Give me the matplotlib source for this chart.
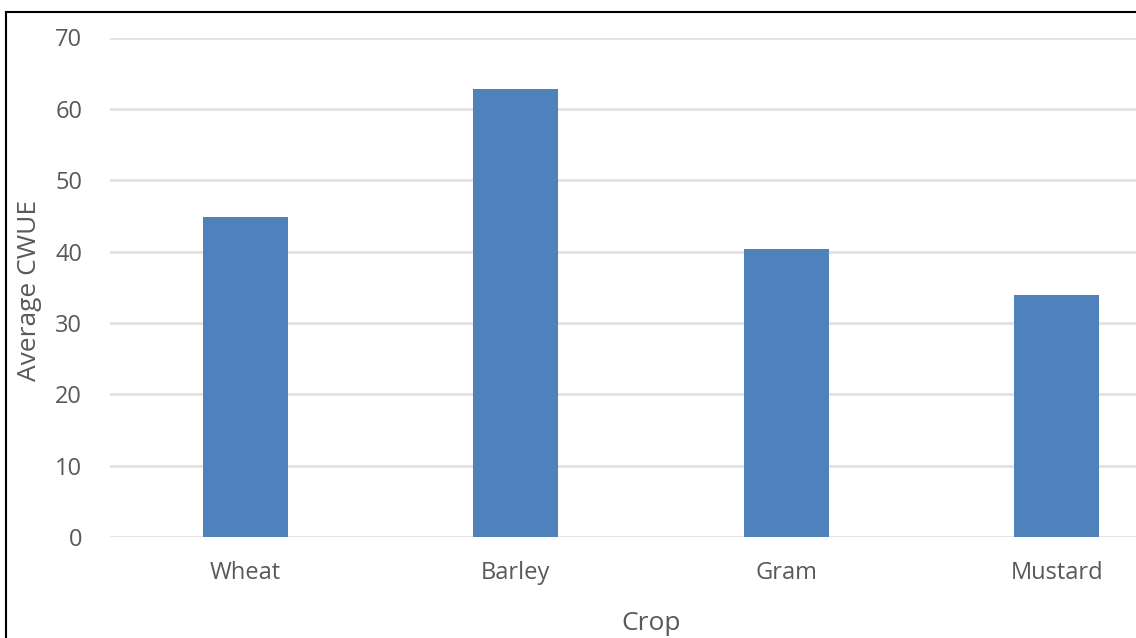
import matplotlib.pyplot as plt
from matplotlib.lines import Line2D

# Average crop water use efficiency by crop
crops = ['Wheat', 'Barley', 'Gram', 'Mustard']
avg_cwue = [44.8, 62.8, 40.4, 33.9]
y_ticks = [0, 10, 20, 30, 40, 50, 60, 70]

plt.rcParams['font.family'] = ['Open Sans', 'DejaVu Sans']

fig = plt.figure(figsize=(11.36, 6.38), dpi=100)
# axes runs past the right edge of the figure, as in the exported chart
ax = fig.add_axes([110 / 1136, 1 - 537 / 638, 1082 / 1136, 499.5 / 638])

x = list(range(len(crops)))
ax.bar(x, avg_cwue, width=0.315, color='#4f81bd', zorder=3)

ax.set_xlim(-0.5, len(crops) - 0.5)
ax.set_ylim(0, 70)
ax.set_yticks(y_ticks)
ax.set_xticks(x)
ax.set_xticklabels(crops)
ax.grid(axis='y', color='#e2e2e2', linewidth=2, zorder=0)
ax.set_axisbelow(True)
for side in ['top', 'right', 'left', 'bottom']:
    ax.spines[side].set_visible(False)
ax.tick_params(axis='both', length=0, colors='#595959', labelsize=17)
ax.tick_params(axis='y', pad=20)
ax.tick_params(axis='x', pad=17)

ax.set_xlabel('Crop', fontsize=19, color='#595959', labelpad=19)
fig.text(30 / 1136, 1 - 290 / 638, 'Average CWUE', rotation=90, fontsize=19,
         color='#595959', ha='center', va='center')

# thin black frame on the top and left
fig.add_artist(Line2D([6 / 1136, 1], [1 - 12 / 638, 1 - 12 / 638], color='black', linewidth=1.5))
fig.add_artist(Line2D([6 / 1136, 6 / 1136], [0, 1 - 12 / 638], color='black', linewidth=1.5))

plt.savefig('out.png', dpi=100)
